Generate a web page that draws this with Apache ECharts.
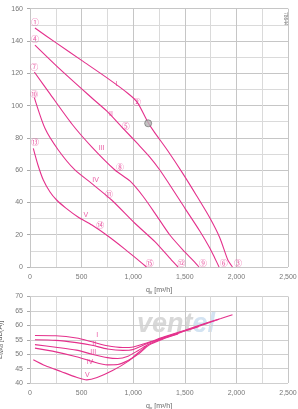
<!DOCTYPE html>
<html>
<head>
<meta charset="utf-8">
<script src="https://cdn.jsdelivr.net/npm/echarts@6/dist/echarts.min.js"></script>
<style>
  html, body { margin: 0; padding: 0; background: #fff; }
  #chart { width: 298px; height: 409px; }
</style>
</head>
<body>
<div id="chart"></div>
<script>
// pressure curves P_sf [Pa] vs q_v [m3/h]
const pressI = [[48,148],[250,139],[500,128],[750,117],[950,107.5],[1040,102],[1140,90],[1200,84],[1335,72],[1480,58],[1616,44],[1742,30.5],[1840,18],[1916,4.5],[1962,0]];
const pressII = [[48,137.5],[290,122.6],[600,104.7],[745,96.5],[890,86.7],[1045,76.2],[1161,68.1],[1258,60.1],[1355,50.8],[1500,36.5],[1645,22.3],[1742,11.8],[1790,5.6],[1832,0]];
const pressIII = [[42,120.8],[194,107.2],[406,88.6],[600,74.3],[823,60.1],[968,53.3],[1093,44],[1210,33.4],[1355,19.8],[1500,9.3],[1577,4.3],[1638,0]];
const pressIV = [[42,104.9],[145,85.9],[274,72.5],[435,60.1],[597,51.8],[791,41.5],[1016,27.1],[1210,15.7],[1371,4.3],[1435,0]];
const pressV = [[32,73.5],[77,63.2],[129,53.9],[194,46.5],[258,41.5],[348,36.5],[465,31],[600,26],[755,19.2],[919,11.1],[1035,5],[1129,0]];

// sound power level L_WAd [dB(A)] vs q_v
const soundI = [[48,56.5],[250,56.4],[450,55.6],[600,54.3],[750,52.9],[900,52.3],[1000,52.5],[1130,53.9],[1300,56],[1500,58.3],[1700,60.7],[1850,62.4],[1962,63.7]];
const soundII = [[48,55],[250,54.8],[450,54],[600,53.1],[750,51.8],[900,51.3],[1000,51.6],[1130,53.6],[1300,55.8],[1500,58.1],[1700,60.5],[1832,62.1]];
const soundIII = [[48,53.3],[250,52.4],[450,51.4],[600,50],[750,48.8],[850,48.5],[950,49.3],[1050,51.3],[1150,53.4],[1300,55.6],[1500,58],[1638,59.6]];
const soundIV = [[48,52.1],[250,50.8],[450,49.1],[600,47.5],[750,46.3],[850,46.4],[950,47.8],[1050,50],[1150,53.1],[1300,55.4],[1435,57]];
const soundV = [[32,48.1],[150,46],[300,44],[450,42],[550,41.1],[650,41.9],[800,44.3],[950,47.5],[1050,50.5],[1129,52.8]];

// circled point markers on the pressure chart
const markerText = ['①','④','⑦','⑩','⑬','②','⑤','⑧','⑪','⑭','⑮','⑫','⑨','⑥','③'];
const markerPos = [[48,151.6],[48,141.2],[42,123.7],[42,107.3],[48,77.6],[1038,102],[929,87.5],[871,62.1],[765,45.2],[680,26],[1161,2.7],[1468,2.7],[1677,2.7],[1877,2.7],[2016,2.7]];
const opPoint = [[1145,89]];

// curve names
const curveNames = ['I','II','III','IV','V'];
const pressNamePos = [[839,113.4],[784,94.6],[694,73.5],[636,53.9],[542,32.2]];
const soundNamePos = [[652,56.6],[623,53.6],[613,50.8],[581,47.4],[555,42.6]];

const xTicks = { min: 0, max: 2500, interval: 500 };

const pink = '#e4318c';
const font = 'Liberation Sans, Arial, sans-serif';
const chart = echarts.init(document.getElementById('chart'));

function fmt(v) { return v.toLocaleString('en-US'); }

function xAxis(idx) {
  return {
    type: 'value', gridIndex: idx, min: xTicks.min, max: xTicks.max, interval: xTicks.interval,
    name: 'q{s|v} [m³/h]', nameLocation: 'middle', nameGap: 19,
    nameTextStyle: { color: '#666', fontSize: 7, fontFamily: font,
      rich: { s: { fontSize: 5, verticalAlign: 'bottom', padding: [4, 0, 0, 0], color: '#666' } } },
    axisLine: { show: false }, axisTick: { show: false },
    axisLabel: { color: '#777', fontSize: 7, fontFamily: font, margin: 7, formatter: fmt },
    splitLine: { lineStyle: { color: '#c6c6c6', width: 1 } },
    minorTick: { show: false, splitNumber: 2 },
    minorSplitLine: { show: true, lineStyle: { color: '#dadada', width: 1 } }
  };
}

function curve(data, x, y) {
  return { type: 'line', xAxisIndex: x, yAxisIndex: y, data: data, smooth: 0.25,
    showSymbol: false, lineStyle: { color: pink, width: 1.1 }, z: 3, silent: true };
}

function names(pos, x, y) {
  return { type: 'scatter', xAxisIndex: x, yAxisIndex: y, symbolSize: 1,
    itemStyle: { color: 'rgba(0,0,0,0)' }, silent: true, z: 4,
    data: pos.map((p, i) => ({ value: p, label: { formatter: curveNames[i] } })),
    label: { show: true, position: 'inside', color: pink, fontSize: 7, fontFamily: font } };
}

const option = {
  animation: false,
  backgroundColor: '#fff',
  grid: [
    { left: 30, right: 10, top: 8.7, height: 258.3, outerBoundsMode: 'none', containLabel: false },
    { left: 30, right: 10, top: 296.5, height: 86.5, outerBoundsMode: 'none', containLabel: false }
  ],
  xAxis: [xAxis(0), xAxis(1)],
  yAxis: [
    {
      type: 'value', gridIndex: 0, min: 0, max: 160, interval: 20,
      name: 'P{s|sf} [Pa]', nameLocation: 'middle', nameGap: 21,
      nameTextStyle: { color: '#666', fontSize: 7, fontFamily: font,
        rich: { s: { fontSize: 5, verticalAlign: 'bottom', padding: [4, 0, 0, 0], color: '#666' } } },
      axisLine: { show: false }, axisTick: { show: true, length: 3, lineStyle: { color: '#aaa' } },
      axisLabel: { color: '#777', fontSize: 7, fontFamily: font, margin: 7 },
      splitLine: { lineStyle: { color: '#c6c6c6', width: 1 } },
      minorTick: { show: false, splitNumber: 2 },
      minorSplitLine: { show: true, lineStyle: { color: '#dadada', width: 1 } }
    },
    {
      type: 'value', gridIndex: 1, min: 40, max: 70, interval: 5,
      name: 'L{s|WAd} [dB(A)]', nameLocation: 'middle', nameGap: 23,
      nameTextStyle: { color: '#666', fontSize: 7, fontFamily: font,
        rich: { s: { fontSize: 5, verticalAlign: 'bottom', padding: [4, 0, 0, 0], color: '#666' } } },
      axisLine: { show: false }, axisTick: { show: true, length: 3, lineStyle: { color: '#aaa' } },
      axisLabel: { color: '#777', fontSize: 7, fontFamily: font, margin: 7 },
      splitLine: { lineStyle: { color: '#cfcfcf', width: 1 } }
    }
  ],
  graphic: [
    { type: 'text', left: 137, top: 311, z: 0, silent: true,
      style: { text: '{g|vent}{b|el}', font: 'italic 900 27px ' + font,
        rich: { g: { fill: '#d8d8d8', font: 'italic 900 27px ' + font }, b: { fill: '#d3e3f2', font: 'italic 900 27px ' + font } } } },
    { type: 'text', x: 288, y: 12, rotation: -Math.PI / 2, silent: true,
      style: { text: '78644', fill: '#777', font: '5px ' + font } }
  ],
  series: [
    curve(pressI, 0, 0), curve(pressII, 0, 0), curve(pressIII, 0, 0), curve(pressIV, 0, 0), curve(pressV, 0, 0),
    curve(soundI, 1, 1), curve(soundII, 1, 1), curve(soundIII, 1, 1), curve(soundIV, 1, 1), curve(soundV, 1, 1),
    names(pressNamePos, 0, 0),
    names(soundNamePos, 1, 1),
    {
      type: 'scatter', xAxisIndex: 0, yAxisIndex: 0, symbolSize: 1, silent: true, z: 5,
      itemStyle: { color: 'rgba(0,0,0,0)' },
      data: markerPos.map((p, i) => ({ value: p, label: { formatter: markerText[i] } })),
      label: { show: true, position: 'inside', color: pink, fontSize: 8, fontFamily: 'Noto Sans CJK JP' }
    },
    {
      type: 'scatter', xAxisIndex: 0, yAxisIndex: 0, symbol: 'circle', symbolSize: 7, silent: true, z: 5,
      itemStyle: { color: '#b4b4b4', borderColor: '#666', borderWidth: 0.8 },
      data: opPoint
    }
  ]
};
chart.setOption(option);
</script>
</body>
</html>
